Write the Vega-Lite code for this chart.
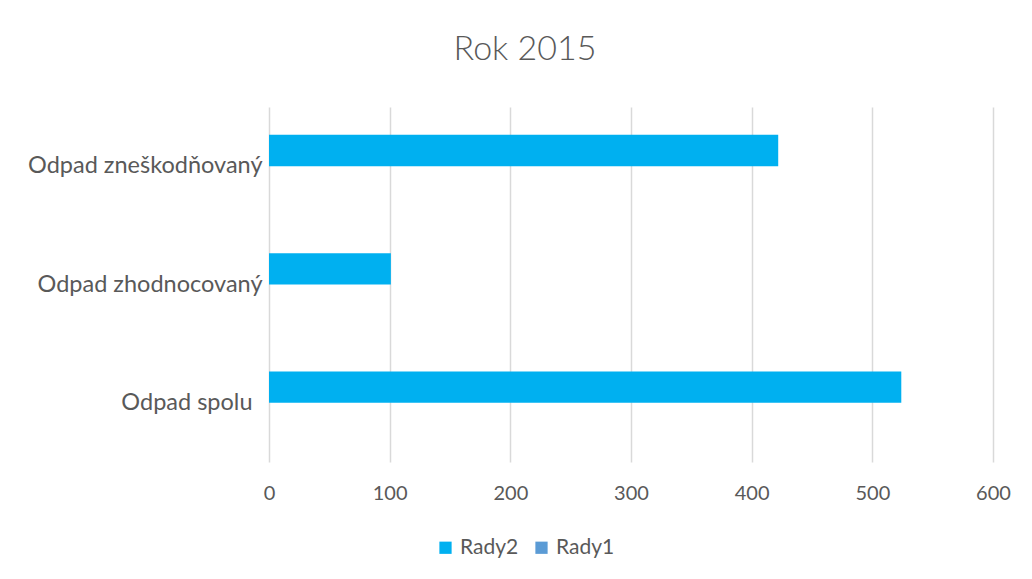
{
  "$schema": "https://vega.github.io/schema/vega-lite/v6.json",
  "width": 724,
  "height": 355,
  "autosize": {"type": "none"},
  "padding": {"left": 269, "top": 107, "right": 39, "bottom": 117},
  "background": "white",
  "title": {"text": "Rok 2015", "font": "Lato", "fontSize": 34, "fontWeight": 300, "color": "#595959", "anchor": "middle", "dx": -106, "offset": 40},
  "data": {"values": [
    {"kategoria": "Odpad zneškodňovaný", "rad": "Rady2", "hodnota": 422},
    {"kategoria": "Odpad zneškodňovaný", "rad": "Rady1", "hodnota": 0},
    {"kategoria": "Odpad zhodnocovaný", "rad": "Rady2", "hodnota": 101},
    {"kategoria": "Odpad zhodnocovaný", "rad": "Rady1", "hodnota": 0},
    {"kategoria": "Odpad spolu", "rad": "Rady2", "hodnota": 524},
    {"kategoria": "Odpad spolu", "rad": "Rady1", "hodnota": 0}
  ]},
  "mark": {"type": "bar"},
  "encoding": {
    "y": {
      "field": "kategoria", "type": "nominal",
      "sort": ["Odpad zneškodňovaný", "Odpad zhodnocovaný", "Odpad spolu"],
      "scale": {"paddingInner": 0.47, "paddingOuter": 0.235},
      "axis": {"title": null, "domain": false, "ticks": false, "grid": false, "labelFont": "Lato", "labelFontSize": 23.5, "labelFontWeight": 400, "labelColor": "#595959", "labelPadding": {"condition": {"test": "datum.value === 'Odpad spolu'", "value": 17}, "value": 7}, "labelLimit": 400}
    },
    "yOffset": {"field": "rad", "type": "nominal", "sort": ["Rady2", "Rady1"], "scale": {"paddingInner": 0, "paddingOuter": 0}},
    "x": {
      "field": "hodnota", "type": "quantitative",
      "scale": {"domain": [0, 600], "nice": false},
      "axis": {"title": null, "domain": false, "ticks": false, "grid": true, "gridColor": "#D9D9D9", "gridWidth": 1.5, "values": [0, 100, 200, 300, 400, 500, 600], "labelFont": "Lato", "labelFontSize": 20, "labelColor": "#595959", "labelPadding": 21, "labelFlush": false}
    },
    "color": {
      "field": "rad", "type": "nominal",
      "scale": {"domain": ["Rady2", "Rady1"], "range": ["#00B0F0", "#5B9BD5"]},
      "legend": {"title": null, "orient": "none", "legendX": 166, "legendY": 430, "direction": "horizontal", "symbolType": "square", "symbolSize": 150, "symbolStrokeWidth": 0, "labelFont": "Lato", "labelFontSize": 21, "labelColor": "#595959", "columnPadding": 12, "labelOffset": 4}
    }
  },
  "config": {"view": {"stroke": null}}
}
